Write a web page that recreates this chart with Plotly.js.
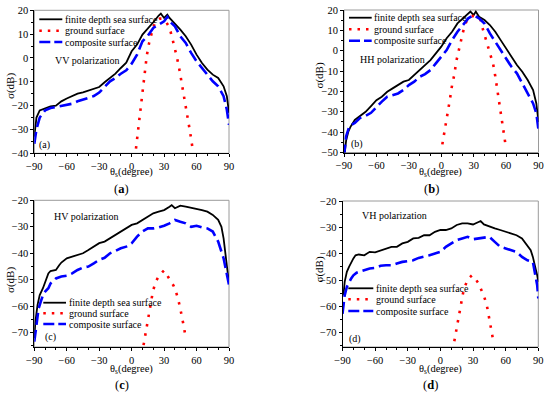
<!DOCTYPE html>
<html>
<head>
<meta charset="utf-8">
<script src="https://cdn.plot.ly/plotly-3.0.1.min.js"></script>
<style>html,body{margin:0;padding:0;background:#fff;}#chart{width:550px;height:395px;}</style>
</head>
<body>
<div id="chart"></div>
<script>
// ---------- Data ----------
// (a) VV polarization
const vvFiniteX = [-90,-89,-88,-85,-80,-75,-70,-65,-60,-55,-50,-45,-40,-35,-30,-25,-20,-15,-10,-5,0,5,10,15,20,25,27,30,33,35,40,45,50,55,60,65,70,75,80,85,88,90];
const vvFiniteY = [-33,-29,-25,-22,-21,-20.3,-20,-18.2,-17,-16,-15,-14.4,-13.6,-12.7,-12.2,-10.2,-8.4,-6.6,-4.2,-2,2.8,5.6,9.8,12.2,15,17.8,18.6,16.8,18.2,16.8,14.4,11.9,9.1,5.6,1.4,-2.1,-4.9,-7,-8.4,-11.9,-16,-23];
const vvCompX = [-90,-88,-85,-80,-75,-70,-65,-60,-55,-50,-45,-40,-35,-30,-25,-20,-15,-10,-5,0,5,10,15,20,25,30,33,35,40,45,50,55,60,65,70,75,80,85,88,90];
const vvCompY = [-36,-30,-25,-22,-21,-20.6,-20,-19.6,-19.2,-18.2,-17.5,-16.8,-16,-14.5,-12.2,-9.8,-8.4,-6.6,-5.2,-2.4,1.4,7,9.4,12.6,14,15.4,17.2,15.4,13.3,9.1,6.3,2.1,-1.4,-4.2,-7,-9.8,-11.9,-16,-21.7,-28];
const vvGroundX = [4,6,8,10,12,14,16,18,20,22,24,26,28,30,32,34,36,38,40,42,44,46,48,50,52,54,56];
const vvGroundY = [-38,-30,-22,-14,-6,1,6,10,13,15,16,16.5,16.5,16,15,13.5,11,7.5,4,0,-4.5,-9.5,-14.5,-19.5,-25,-31,-37];

// (b) HH polarization
const hhFiniteX = [-90,-89,-88,-86,-84,-80,-75,-70,-65,-60,-55,-50,-45,-40,-35,-30,-25,-20,-15,-10,-5,0,5,10,15,20,25,27,30,32,35,40,45,50,55,60,65,70,75,80,85,88,90];
const hhFiniteY = [-53,-48,-44,-39.8,-37.4,-34,-32,-30,-27.2,-24.3,-22.6,-20.2,-18.5,-16.9,-15.2,-14.4,-12,-9.5,-7,-4.6,-1.3,2,6.1,9.3,13.4,15.9,18.7,19.2,17.5,19.2,16.7,15.1,12.6,9.3,5.2,1.1,-2.9,-7,-10.3,-14.4,-19.3,-25.9,-35];
const hhCompX = [-90,-88,-85,-80,-75,-70,-65,-60,-55,-50,-45,-40,-35,-30,-25,-20,-15,-10,-5,0,5,10,15,20,25,30,35,40,45,50,55,60,65,70,75,80,85,88,90];
const hhCompY = [-52,-42,-37,-35.5,-33,-32,-30.5,-27.5,-25,-22.6,-21.8,-21,-19.3,-16.9,-15.2,-12.8,-11.5,-9.5,-6.2,-3,0.3,5.2,9.3,12.6,15.9,17.5,15.9,13.4,8.5,4.4,0.3,-3.8,-7.9,-11.1,-16,-21,-25.9,-30.8,-39];
const hhGroundX = [1,2,4,6,8,10,12,14,16,18,20,22,24,26,28,30,32,34,36,38,40,42,44,46,48,50,52,54,56,58,60];
const hhGroundY = [-46,-43,-38,-30.5,-24,-17,-12,-5,0,4.8,8.9,12.8,15.1,16.4,17,17,16.7,16.3,15.9,11.5,8,4.5,0.5,-2.5,-6.5,-12.5,-20,-27.5,-34.5,-42,-48];

// (c) HV polarization
const hvFiniteX = [-90,-89,-87,-85,-82,-80,-77,-75,-70,-67,-65,-60,-55,-50,-45,-40,-35,-30,-25,-20,-15,-10,-5,0,5,10,15,20,25,30,35,37,40,45,50,55,60,65,70,75,80,83,85,87,89,90];
const hvFiniteY = [-72,-65.8,-59.5,-55.8,-53.2,-50.7,-47.6,-46.7,-46.3,-44.5,-43.5,-41.9,-41.3,-40.7,-40,-38.8,-37.5,-36.2,-35.6,-34.4,-33.1,-31.8,-30.6,-29.3,-28.7,-27.4,-26.2,-24.9,-24.3,-23.7,-22.4,-21.8,-23,-22,-22.4,-22.8,-23.3,-23.7,-24.3,-25.5,-27.4,-30,-34.4,-40.7,-48.2,-51.4];
const hvCompX = [-90,-88,-86,-84,-82,-80,-77,-75,-70,-65,-60,-55,-50,-45,-40,-35,-30,-25,-20,-15,-10,-5,0,5,10,15,20,25,30,35,40,45,50,55,60,65,70,75,80,85,88,90];
const hvCompY = [-73.4,-65.8,-60.8,-58.3,-55.8,-54.5,-53.2,-51.4,-49.5,-48.8,-48.5,-47.6,-46.3,-45.4,-45,-43.8,-42.5,-41.7,-40,-39.1,-38.1,-37.5,-36.2,-33.7,-31.8,-30.6,-30.6,-30.2,-29.6,-28.7,-27.4,-28.1,-28.7,-30,-29.6,-30.2,-30.6,-31.8,-35.6,-41.9,-48.2,-52];
const hvGroundX = [11,13.1,14.4,16.2,17.7,19.6,22,24.8,28.2,30,32.6,35.7,38.7,40.9,42.8,44.9,47.1,48.6,49.9];
const hvGroundY = [-74.7,-69.6,-65.8,-61.4,-58,-54.5,-51,-48.8,-47.2,-46.5,-48.2,-50.1,-52.2,-54.5,-57,-60.8,-64.6,-68.4,-72.1];

// (d) VH polarization
const vhFiniteX = [-90,-89,-88,-86,-84,-82,-80,-78,-75,-70,-65,-60,-55,-50,-45,-40,-35,-30,-25,-20,-15,-10,-5,0,5,10,15,20,25,30,35,37,40,45,50,55,60,65,70,75,80,83,85,87,89,90];
const vhFiniteY = [-55.8,-55.2,-50.7,-46.9,-45,-43.1,-41.8,-40.6,-40.3,-40.6,-39.3,-39.5,-38.7,-38,-37.4,-37.4,-36.1,-35.5,-34.2,-34,-33,-33,-31.7,-31,-31,-30.4,-29.1,-28.5,-28.5,-28.9,-28.1,-27.6,-28.9,-29.8,-30.4,-31,-31.7,-32.3,-33,-34.2,-36.8,-38.7,-41.2,-44.4,-48.2,-50.7];
const vhCompX = [-90,-89,-88,-86,-84,-82,-80,-77,-75,-70,-65,-60,-55,-50,-45,-40,-35,-30,-25,-20,-15,-10,-5,0,5,10,15,20,25,30,35,40,45,50,55,60,65,70,75,80,85,87,89,90];
const vhCompY = [-62.8,-60.2,-55.8,-52.6,-50.7,-49.4,-48.2,-47.2,-46.9,-46.3,-45.6,-45.4,-44.6,-44.4,-44.4,-43.7,-43.1,-42.8,-42.5,-41.6,-41.2,-40.6,-39.9,-39.3,-37.4,-36.1,-34.8,-34.2,-33.6,-34.5,-34.2,-34,-33.6,-35.5,-37.4,-38,-38.7,-39.3,-41.2,-42.5,-43.1,-46.9,-52,-57];
const vhGroundX = [12.8,14.3,15.9,17.4,18.9,20.7,22.9,25.9,29,32,35.1,38.1,40.3,42.7,44.2,45.8,47.3,48.8];
const vhGroundY = [-73.2,-69.7,-66.6,-62.8,-59,-55.2,-52,-49.4,-48.2,-49.4,-51.3,-53.9,-56.4,-59.6,-62.8,-65.9,-69.7,-73.5];

const seriesNames = ["finite depth sea surface", "ground surface", "composite surface"];
const panelTitles = ["VV polarization", "HH polarization", "HV polarization", "VH polarization"];
const panelTags = ["(a)", "(b)", "(c)", "(d)"];
const xTickVals = [-90, -60, -30, 0, 30, 60, 90];
const xTitleText = "θ<sub>s</sub>(degree)";
const yTitleText = "σ(dB)";

// ---------- Styling ----------
const W = 550, H = 395;
const FONT = '"Liberation Serif", "Times New Roman", serif';
const px = v => v / W;
const py = v => 1 - v / H;

const styles = [
  {color: "#000000", width: 1.8, dash: "solid"},
  {color: "#ff0000", width: 2.6, dash: "2.5px,7px"},
  {color: "#0000ff", width: 2.6, dash: "12px,5px"}
];

const panels = [
  {ax: "", data: [[vvFiniteX, vvFiniteY], [vvGroundX, vvGroundY], [vvCompX, vvCompY]],
   dom: {x: [34.3, 229], y: [10.3, 153.3]}, yr: [-40, 20], yd: 10,
   leg: {x0: 39.3, x1: 62.3, rows: [19.3, 30.7, 42]}, title: {x: 53, y: 61}, tag: {x: 37, y: 145.3},
   xt: {x: 131, y: 172.5}, yt: {x: 10, y: 86}},
  {ax: "2", data: [[hhFiniteX, hhFiniteY], [hhGroundX, hhGroundY], [hhCompX, hhCompY]],
   dom: {x: [344, 538.5], y: [10, 152.5]}, yr: [-50, 20], yd: 10,
   leg: {x0: 349, x1: 371.7, rows: [17.7, 29.3, 40.7]}, title: {x: 358, y: 59.3}, tag: {x: 349, y: 144},
   xt: {x: 441, y: 172}, yt: {x: 318.5, y: 76}},
  {ax: "3", data: [[hvFiniteX, hvFiniteY], [hvGroundX, hvGroundY], [hvCompX, hvCompY]],
   dom: {x: [34.3, 229], y: [200.3, 347]}, yr: [-75.4, -20], yd: 10,
   leg: {x0: 43.3, x1: 66, rows: [302.7, 313.3, 324]}, title: {x: 51.7, y: 216.7}, tag: {x: 43, y: 336.7},
   xt: {x: 131, y: 369.5}, yt: {x: 10, y: 280}},
  {ax: "4", data: [[vhFiniteX, vhFiniteY], [vhGroundX, vhGroundY], [vhCompX, vhCompY]],
   dom: {x: [342.5, 538.3], y: [201, 347]}, yr: [-75.4, -20], yd: 10,
   leg: {x0: 348.3, x1: 373.3, rows: [288.3, 299.3, 311]}, title: {x: 360, y: 215.7}, tag: {x: 346.7, y: 339.3},
   xt: {x: 441, y: 369.5}, yt: {x: 318.5, y: 270}}
];

const traces = [];
const layout = {
  width: W, height: H,
  margin: {l: 0, r: 0, t: 0, b: 0},
  paper_bgcolor: "#ffffff", plot_bgcolor: "#ffffff",
  showlegend: false,
  font: {family: FONT, size: 10.5, color: "#000"},
  shapes: [], annotations: []
};

panels.forEach((p, i) => {
  const xa = "x" + p.ax, ya = "y" + p.ax;
  [0, 1, 2].forEach(k => {
    traces.push({
      type: "scatter", mode: "lines", name: seriesNames[k],
      x: p.data[k][0], y: p.data[k][1],
      xaxis: xa, yaxis: ya, cliponaxis: true,
      line: {color: styles[k].color, width: styles[k].width, dash: styles[k].dash},
      hoverinfo: "skip"
    });
  });
  const axCommon = {
    showline: true, linecolor: "#000", linewidth: 1, mirror: false,
    showgrid: false, zeroline: false,
    ticks: "outside", ticklen: 3, tickwidth: 1, tickcolor: "#000",
    tickfont: {family: FONT, size: 10.5, color: "#000"},
    automargin: false
  };
  layout["xaxis" + p.ax] = Object.assign({}, axCommon, {
    domain: [px(p.dom.x[0]), px(p.dom.x[1])], range: [-90, 90],
    anchor: ya, tickmode: "array", tickvals: xTickVals,
    minor: {ticks: "outside", ticklen: 2, dtick: 10, tick0: -90, tickcolor: "#000"}
  });
  layout["yaxis" + p.ax] = Object.assign({}, axCommon, {
    domain: [py(p.dom.y[1]), py(p.dom.y[0])], range: p.yr,
    anchor: xa, dtick: p.yd, tick0: 0,
    minor: {ticks: "outside", ticklen: 2, dtick: 5, tick0: 0, tickcolor: "#000"}
  });
  // axis titles
  layout.annotations.push({xref: "paper", yref: "paper", x: px(p.xt.x), y: py(p.xt.y),
    xanchor: "center", yanchor: "middle", showarrow: false, text: xTitleText,
    font: {family: FONT, size: 10.5, color: "#000"}});
  layout.annotations.push({xref: "paper", yref: "paper", x: px(p.yt.x), y: py(p.yt.y),
    xanchor: "center", yanchor: "middle", showarrow: false, text: yTitleText, textangle: -90,
    font: {family: FONT, size: 11, color: "#000"}});
  // grey frame (top/right edges)
  layout.shapes.push({type: "rect", xref: xa + " domain", yref: ya + " domain",
    x0: 0, x1: 1, y0: 0, y1: 1, line: {color: "#9a9a9a", width: 1}, layer: "below"});
  // legend
  [0, 1, 2].forEach(k => {
    const ry = p.leg.rows[k];
    layout.shapes.push({type: "line", xref: "paper", yref: "paper",
      x0: px(p.leg.x0), x1: px(p.leg.x1), y0: py(ry), y1: py(ry),
      line: {color: styles[k].color, width: styles[k].width, dash: k === 1 ? "2.5px,6px" : (k === 2 ? "11px,4px" : "solid")}});
    layout.annotations.push({xref: "paper", yref: "paper", x: px(p.leg.x1 + 0.5), y: py(ry),
      xanchor: "left", yanchor: "middle", showarrow: false, text: seriesNames[k],
      font: {family: FONT, size: 10, color: "#000"}});
  });
  layout.annotations.push({xref: "paper", yref: "paper", x: px(p.title.x), y: py(p.title.y),
    xanchor: "left", yanchor: "middle", showarrow: false, text: panelTitles[i],
    font: {family: FONT, size: 10, color: "#000"}});
  layout.annotations.push({xref: "paper", yref: "paper", x: px(p.tag.x), y: py(p.tag.y),
    xanchor: "left", yanchor: "middle", showarrow: false, text: panelTags[i],
    font: {family: FONT, size: 10, color: "#000"}});
  // sub-figure caption
  const cx = (p.dom.x[0] + p.dom.x[1]) / 2 - 10;
  const cy = i < 2 ? 188.5 : 384.5;
  layout.annotations.push({xref: "paper", yref: "paper", x: px(cx), y: py(cy),
    xanchor: "center", yanchor: "middle", showarrow: false,
    text: "(<b>" + "abcd"[i] + "</b>)",
    font: {family: FONT, size: 12.5, color: "#000"}});
});

Plotly.newPlot("chart", traces, layout, {staticPlot: true, displayModeBar: false});
</script>
</body>
</html>
